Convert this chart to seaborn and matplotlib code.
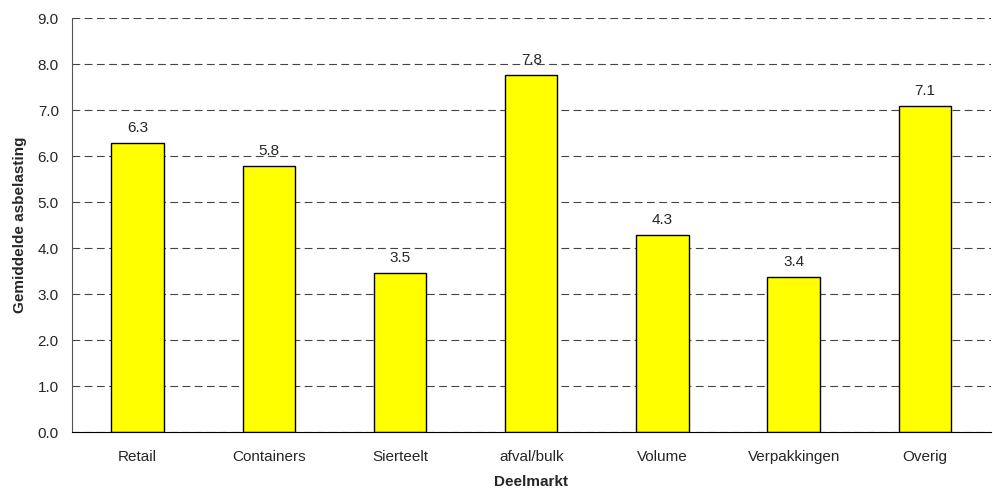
import numpy as np
import pandas as pd
import matplotlib
matplotlib.use("Agg")
import matplotlib.pyplot as plt
import seaborn as sns

# Data
categories = ["Retail", "Containers", "Sierteelt", "afval/bulk", "Volume", "Verpakkingen", "Overig"]
values = [6.28, 5.78, 3.46, 7.76, 4.28, 3.37, 7.09]

df = pd.DataFrame({"Deelmarkt": categories, "Gemiddelde asbelasting": values})

sns.set_style("white")
plt.rcParams["font.family"] = ["Liberation Sans", "DejaVu Sans"]

fig = plt.figure(figsize=(9.93, 4.9), dpi=100)
ax = fig.add_axes([0.0725, 0.118, 0.925, 0.845])

sns.barplot(data=df, x="Deelmarkt", y="Gemiddelde asbelasting", color="#FFFF00",
            edgecolor="black", linewidth=1, width=0.4, saturation=1, ax=ax)

ax.bar_label(ax.containers[0], labels=[f"{v:.1f}" for v in values],
             padding=6, fontsize=11)

ax.set_ylim(0, 9)
ax.set_xlim(-0.5, len(categories) - 0.5)
ax.set_yticks(np.arange(0, 9.01, 1.0))
ax.set_yticklabels([f"{t:.1f}" for t in np.arange(0, 9.01, 1.0)])
ax.yaxis.grid(True, linestyle=(0, (7, 4)), color="#444444", linewidth=0.8)
ax.set_axisbelow(True)

ax.set_xticks(np.arange(-0.5, len(categories), 1.0), minor=True)
ax.tick_params(axis="x", which="major", length=0, labelsize=11, pad=13)
ax.tick_params(axis="x", which="minor", length=5, width=1, direction="out", color="black")
ax.tick_params(axis="y", length=6, width=1, direction="out", color="black", labelsize=11)

for s in ["top", "right"]:
    ax.spines[s].set_visible(False)
ax.spines["left"].set_color("#555555")
ax.spines["bottom"].set_color("black")

ax.set_xlabel("Deelmarkt", fontsize=11, fontweight="bold", labelpad=8)
ax.set_ylabel("Gemiddelde asbelasting", fontsize=11, fontweight="bold", labelpad=8)

fig.savefig("out.png", dpi=100)
